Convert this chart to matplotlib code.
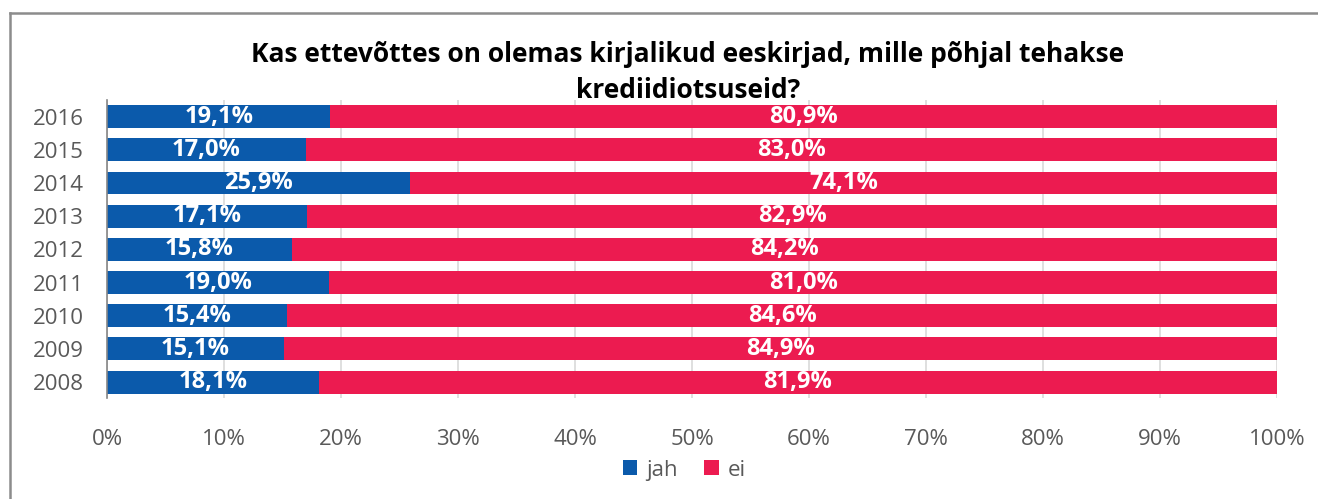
import matplotlib.pyplot as plt
from matplotlib.lines import Line2D
import numpy as np

years = ['2016', '2015', '2014', '2013', '2012', '2011', '2010', '2009', '2008']
jah = [19.1, 17.0, 25.9, 17.1, 15.8, 19.0, 15.4, 15.1, 18.1]
ei = [80.9, 83.0, 74.1, 82.9, 84.2, 81.0, 84.6, 84.9, 81.9]
xticks = [0, 10, 20, 30, 40, 50, 60, 70, 80, 90, 100]

blue = '#0B5AAB'
red = '#EC1B50'
grey = '#595959'

plt.rcParams['font.family'] = ['Open Sans', 'DejaVu Sans']

fig = plt.figure(figsize=(13.18, 4.99), dpi=100)
ax = fig.add_axes([0.0812, 0.2024, 0.8877, 0.5972])

y = np.arange(len(years))[::-1]
ax.barh(y, jah, height=0.69, color=blue, zorder=3, label='jah')
ax.barh(y, ei, left=jah, height=0.69, color=red, zorder=3, label='ei')

for yi, a, b in zip(y, jah, ei):
    ax.text(a / 2, yi, f'{a:.1f}%'.replace('.', ','), ha='center', va='center',
            color='white', fontsize=17, fontweight='bold', zorder=4)
    ax.text(a + b / 2, yi, f'{b:.1f}%'.replace('.', ','), ha='center', va='center',
            color='white', fontsize=17, fontweight='bold', zorder=4)

ax.set_xlim(0, 100)
ax.set_ylim(-0.48, 8.5)
ax.set_yticks(y)
ax.set_yticklabels(years)
ax.set_xticks(xticks)
ax.set_xticklabels([f'{t}%' for t in xticks])
ax.tick_params(axis='both', length=0, colors=grey, labelsize=16)
ax.tick_params(axis='x', pad=22)
ax.tick_params(axis='y', pad=17)
ax.grid(axis='x', color='#D9D9D9', linewidth=1.2, zorder=0)
for s in ['top', 'right', 'bottom']:
    ax.spines[s].set_visible(False)
ax.spines['left'].set_color('#868686')
ax.spines['left'].set_linewidth(1.2)
ax.spines['left'].set_zorder(5)

fig.text(0.522, 0.855, 'Kas ettevõttes on olemas kirjalikud eeskirjad, mille põhjal tehakse\nkrediidiotsuseid?',
         ha='center', va='center', fontsize=19, fontweight='bold', color='black',
         linespacing=1.42)

fig.legend(loc='center', bbox_to_anchor=(0.519, 0.058), ncol=2, frameon=False,
           fontsize=16, labelcolor=grey, handlelength=0.65, handleheight=0.65,
           handletextpad=0.4, columnspacing=1.2)

# chart area border (top and left visible)
fig.add_artist(Line2D([10 / 1318, 1317 / 1318], [1 - 13 / 499, 1 - 13 / 499],
                      color='#8C8C8C', linewidth=1.8, transform=fig.transFigure))
fig.add_artist(Line2D([10 / 1318, 10 / 1318], [0, 1 - 13 / 499],
                      color='#8C8C8C', linewidth=1.8, transform=fig.transFigure))

fig.savefig('out.png', dpi=100)
